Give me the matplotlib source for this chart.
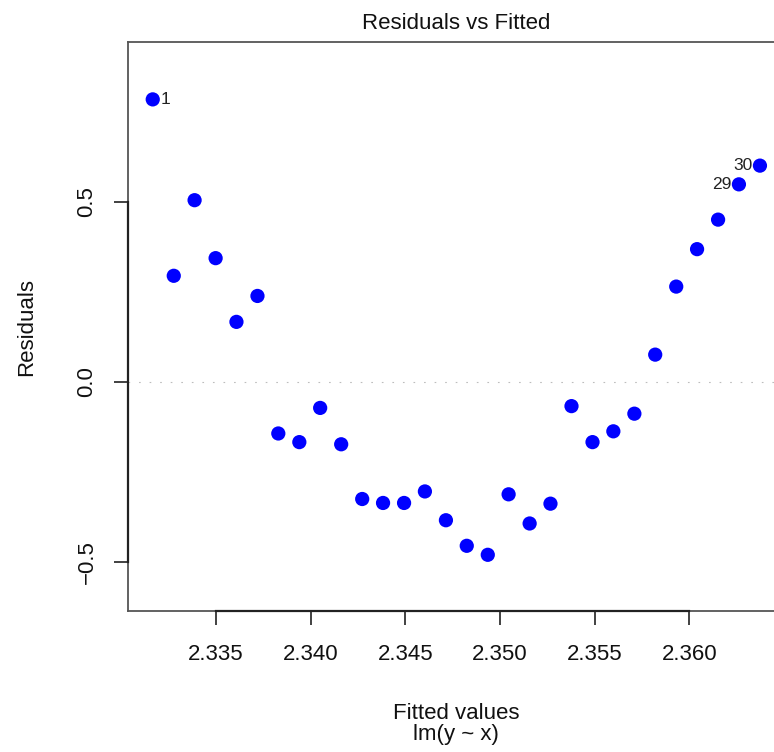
import matplotlib.pyplot as plt

# fitted values and residuals of lm(y ~ x)
fitted = [2.33166, 2.33277, 2.33387, 2.33498, 2.33608, 2.33719, 2.33829, 2.33940,
          2.34050, 2.34161, 2.34272, 2.34382, 2.34493, 2.34603, 2.34714, 2.34824,
          2.34935, 2.35045, 2.35156, 2.35266, 2.35377, 2.35488, 2.35598, 2.35709,
          2.35819, 2.35930, 2.36040, 2.36151, 2.36261, 2.36372]
residuals = [0.785, 0.295, 0.505, 0.344, 0.167, 0.239, -0.143, -0.167,
             -0.072, -0.173, -0.325, -0.336, -0.336, -0.304, -0.384, -0.455,
             -0.480, -0.312, -0.393, -0.338, -0.067, -0.167, -0.137, -0.088,
             0.076, 0.265, 0.369, 0.451, 0.549, 0.601]
labelled = [1, 29, 30]  # observations flagged with their index
xticks = [2.335, 2.340, 2.345, 2.350, 2.355, 2.360]
yticks = [-0.5, 0.0, 0.5]

plt.rcParams['font.family'] = ['Liberation Sans', 'DejaVu Sans']

fig = plt.figure(figsize=(7.74, 7.52), dpi=100)
# plot region runs past the right edge of the image, as in the reference
ax = fig.add_axes([128 / 774, 141 / 752, 656 / 774, 569 / 752])

xlim = (2.330354, 2.36499)
ylim = (-0.6361, 0.9444)
ax.set_xlim(xlim)
ax.set_ylim(ylim)

# dotted zero line
ax.axhline(0, color='#bdbdbd', linewidth=0.8, linestyle=(0, (1.5, 8)), zorder=1)

ax.scatter(fitted, residuals, s=105, c='#0000ff', edgecolors='none', zorder=3)

for i in labelled:
    x, y = fitted[i - 1], residuals[i - 1]
    if x < sum(xlim) / 2:
        ax.annotate(str(i), (x, y), xytext=(5.5, 0), textcoords='offset points',
                    ha='left', va='center', fontsize=12.5, color='#222222')
    else:
        ax.annotate(str(i), (x, y), xytext=(-5.5, 0), textcoords='offset points',
                    ha='right', va='center', fontsize=12.5, color='#222222')

# R-style box and axes
for s in ax.spines.values():
    s.set_color('#555555')
    s.set_linewidth(1.3)
ax.plot([xticks[0], xticks[-1]], [ylim[0], ylim[0]], color='#222222', lw=1.6,
        clip_on=False, zorder=4)
ax.plot([xlim[0], xlim[0]], [yticks[0], yticks[-1]], color='#222222', lw=1.6,
        clip_on=False, zorder=4)

ax.set_xticks(xticks)
ax.set_xticklabels([f"{t:.3f}" for t in xticks])
ax.set_yticks(yticks)
ax.set_yticklabels([f"{t:.1f}".replace('-', '\u2212') for t in yticks],
                   rotation=90, va='center')
ax.tick_params(axis='both', direction='out', length=10, width=1.3,
               color='#333333', labelsize=16, labelcolor='#111111')
ax.tick_params(axis='x', pad=14)
ax.tick_params(axis='y', pad=12)

ax.set_title("Residuals vs Fitted", fontsize=16, pad=9.5, color='#111111')
ax.set_xlabel("Fitted values\nlm(y ~ x)", fontsize=16, labelpad=27,
              linespacing=1.0, color='#111111')
ax.set_ylabel("Residuals", fontsize=16, labelpad=28, color='#111111')

fig.savefig("out.png", dpi=100)
